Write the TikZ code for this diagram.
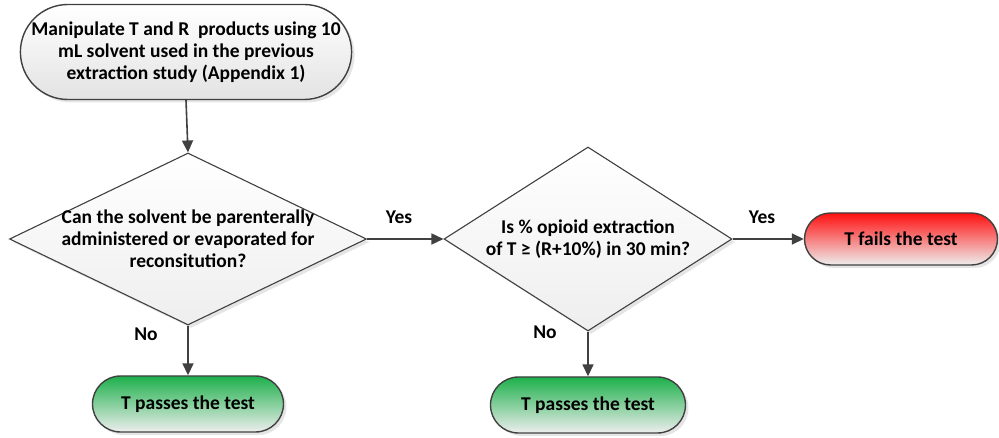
\documentclass[tikz,border=0pt]{standalone}
\usepackage{fontspec}
\setmainfont{Carlito}
\usetikzlibrary{shapes.geometric,shapes.misc,shadows,arrows.meta}
\definecolor{edge}{HTML}{404040}
\definecolor{passgreen}{HTML}{1DB04B}
\definecolor{failred}{HTML}{FF1010}
\definecolor{paleg}{HTML}{EEEEEE}
\tikzset{
  txt/.style={font=\bfseries\fontsize{19.5}{22}\selectfont, align=center, text=black},
  term/.style={rounded rectangle, draw=edge, line width=1.4pt, inner sep=0pt,
    drop shadow={shadow xshift=3pt, shadow yshift=-3pt, fill=black!20, opacity=0.5},
    txt},
  decision/.style={diamond, draw=edge, line width=1.1pt, inner sep=0pt,
    top color=white, bottom color=paleg,
    drop shadow={shadow xshift=3pt, shadow yshift=-3pt, fill=black!20, opacity=0.5}},
  conn/.style={draw=edge, line width=1.6pt, -{Triangle[length=12pt,width=11pt]}},
  lbl/.style={font=\bfseries\fontsize{19.5}{22}\selectfont, text=black}
}
\begin{document}
\begin{tikzpicture}[x=1pt,y=-1pt]
\useasboundingbox (0,0) rectangle (999,438);
\node[term, minimum width=321pt, minimum height=95pt, top color=white, bottom color=gray!22] (start) at (186,52)
  {Manipulate T and R\ \ products using 10\\ mL solvent used in the previous\\ extraction study (Appendix 1)};
\node[decision, minimum width=357pt, minimum height=172pt] (d1) at (188,239) {};
\node[txt] (d1t) at (188,239) {Can the solvent be parenterally\\ administered or evaporated for\\ reconsitution?};
\node[decision, minimum width=288pt, minimum height=184pt] (d2) at (588,239) {};
\node[txt] (d2t) at (588,239) {Is \% opioid extraction\\ of T ≥ (R+10\%) in 30 min?};
\node[term, minimum width=193pt, minimum height=52pt, top color=failred, bottom color=paleg] (fail) at (901,239) {T fails the test};
\node[term, minimum width=191pt, minimum height=56pt, top color=passgreen, bottom color=paleg] (pass1) at (188,404) {T passes the test};
\node[term, minimum width=195pt, minimum height=56pt, top color=passgreen, bottom color=paleg] (pass2) at (588,405) {T passes the test};
\draw[conn] (start.south) -- (d1.north);
\draw[conn] (d1.east) -- (d2.west);
\draw[conn] (d2.east) -- (fail.west);
\draw[conn] (d1.south) -- (pass1.north);
\draw[conn] (d2.south) -- (pass2.north);
\node[lbl] (yes1) at (399,217) {Yes};
\node[lbl] (yes2) at (762,217) {Yes};
\node[lbl] (no1) at (146,334) {No};
\node[lbl] (no2) at (545,332) {No};
\end{tikzpicture}
\end{document}
